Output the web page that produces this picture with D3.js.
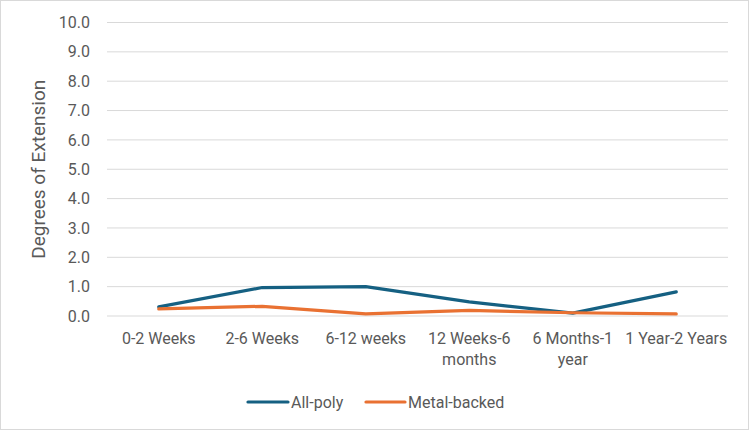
<!DOCTYPE html>
<html><head><meta charset="utf-8">
<script src="https://cdn.jsdelivr.net/npm/d3@7/dist/d3.min.js"></script>
<style>
body{margin:0;background:#fff;}
svg text{font-family:Roboto,"Noto Sans",sans-serif;fill:#595959;}
</style></head><body>
<svg id="chart" width="750" height="431"></svg>
<script>
const categories = ["0-2 Weeks","2-6 Weeks","6-12 weeks","12 Weeks-6 months","6 Months-1 year","1 Year-2 Years"];
const allPoly = [0.31, 0.97, 1.0, 0.48, 0.1, 0.82];
const metalBacked = [0.24, 0.33, 0.07, 0.19, 0.11, 0.07];
const seriesNames = ["All-poly","Metal-backed"];
const seriesColors = ["#156082","#E97132"];
const yTicks = [0,1,2,3,4,5,6,7,8,9,10];

const svg = d3.select("#chart");
svg.append("rect").attr("x",0.5).attr("y",0.5).attr("width",748).attr("height",429)
  .attr("fill","#fff").attr("stroke","#d9d9d9");

const pLeft=107, pRight=728, pTop=22.5, pBottom=316;
const x = d3.scaleBand().domain(categories).range([pLeft,pRight]);
const y = d3.scaleLinear().domain([0,10]).range([pBottom,pTop]);
const fs = 16;

// gridlines
svg.append("g").selectAll("line").data(yTicks).join("line")
  .attr("x1",pLeft).attr("x2",pRight).attr("y1",d=>y(d)).attr("y2",d=>y(d))
  .attr("stroke","#d9d9d9").attr("stroke-width",1);

// y axis labels
const yAxis = svg.append("g").attr("transform",`translate(${pLeft},0)`)
  .call(d3.axisLeft(y).tickValues(yTicks).tickFormat(d3.format(".1f")).tickSize(0).tickPadding(17));
yAxis.select(".domain").remove();
yAxis.selectAll("text").attr("font-size",fs).style("font-family","Roboto,sans-serif").attr("fill","#595959");

// x axis labels
const xAxis = svg.append("g").attr("transform",`translate(0,${pBottom})`)
  .call(d3.axisBottom(x).tickSize(0).tickPadding(17));
xAxis.select(".domain").remove();
xAxis.selectAll("text").attr("font-size",fs).style("font-family","Roboto,sans-serif").attr("fill","#595959")
  .each(function(d){
    const t=d3.select(this);
    const w=this.getComputedTextLength();
    if(w > x.bandwidth()+4){
      const words=d.split(" ");
      let line1=words.slice(0,-1).join(" "), line2=words[words.length-1];
      t.text(null);
      t.append("tspan").attr("x",0).attr("dy","0.71em").text(line1);
      t.append("tspan").attr("x",0).attr("dy","1.3em").text(line2);
      t.attr("dy",null);
    }
  });

// y title
svg.append("text").attr("transform",`translate(45,${(pTop+pBottom)/2}) rotate(-90)`)
  .attr("text-anchor","middle").attr("font-size",19).text("Degrees of Extension");

// lines
const line = d3.line().x((d,i)=>x(categories[i])+x.bandwidth()/2).y(d=>y(d));
[allPoly, metalBacked].forEach((s,i)=>{
  svg.append("path").datum(s).attr("d",line).attr("fill","none")
    .attr("stroke",seriesColors[i]).attr("stroke-width",3.2)
    .attr("stroke-linecap","round").attr("stroke-linejoin","round");
});

// legend
const legend = [{x1:248,x2:288,tx:291},{x1:366,x2:405,tx:408}];
seriesNames.forEach((n,i)=>{
  const L=legend[i];
  svg.append("line").attr("x1",L.x1).attr("x2",L.x2).attr("y1",402).attr("y2",402)
    .attr("stroke",seriesColors[i]).attr("stroke-width",3.2).attr("stroke-linecap","round");
  svg.append("text").attr("x",L.tx).attr("y",402).attr("dy","0.35em").attr("font-size",fs).text(n);
});
</script></body></html>
